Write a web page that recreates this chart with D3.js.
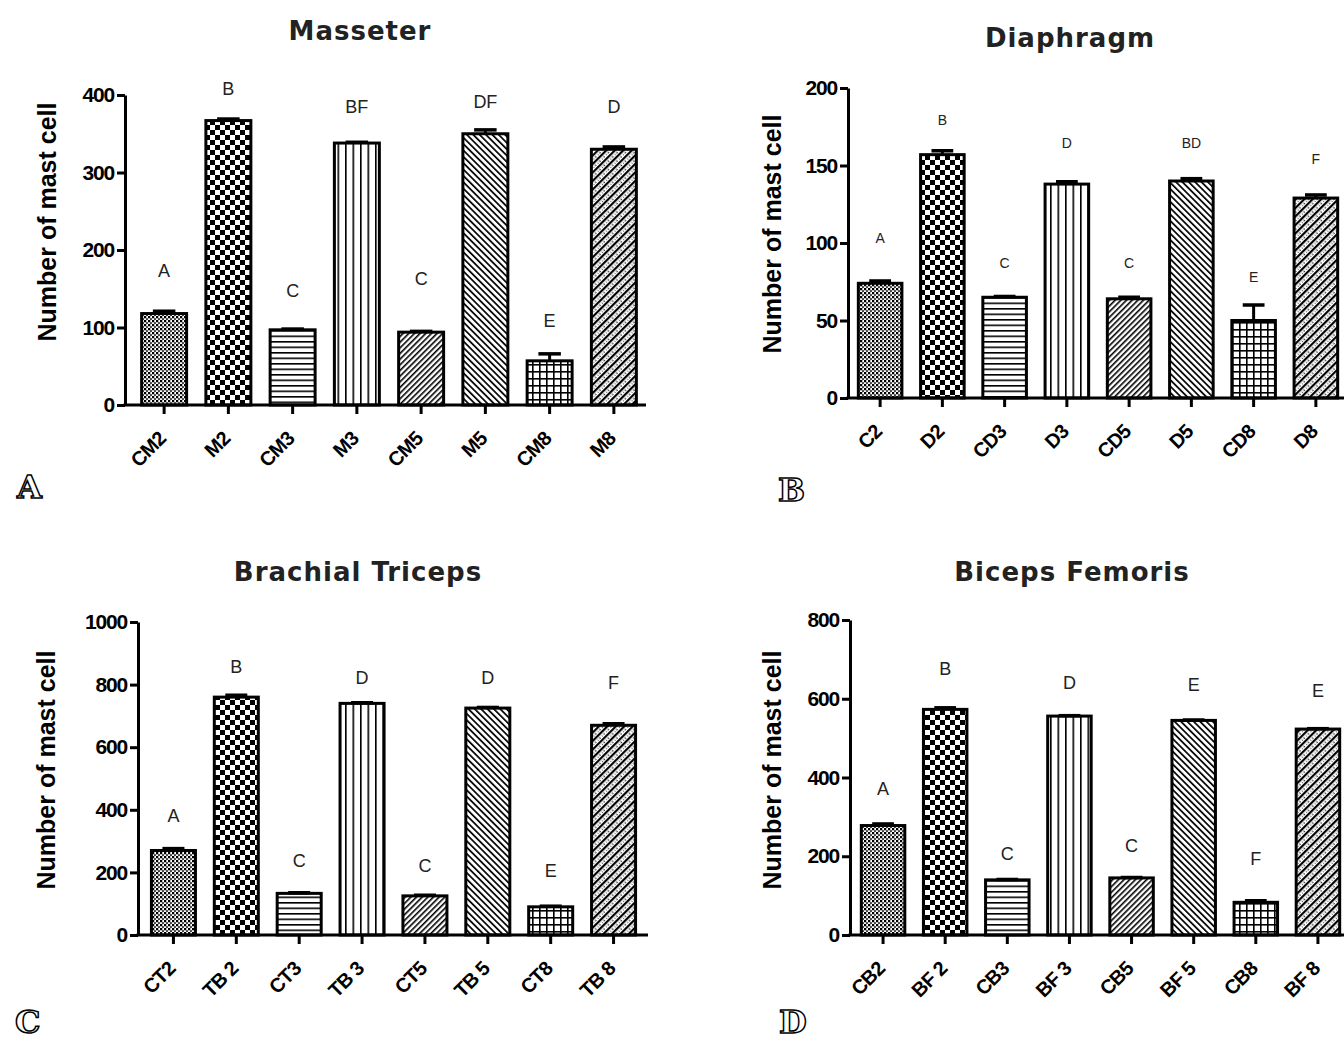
<!DOCTYPE html>
<html>
<head>
<meta charset="utf-8">
<script src="https://cdnjs.cloudflare.com/ajax/libs/d3/7.8.5/d3.min.js"></script>
<style>
  body { margin: 0; background: #fff; }
  svg { display: block; }
  .tick text { font-family: "Liberation Sans", Arial, sans-serif; font-weight: bold; }
</style>
</head>
<body>
<svg id="chart" width="1344" height="1044"></svg>
<script>
// ---- data ----
const masseterGroups = ["CM2", "M2", "CM3", "M3", "CM5", "M5", "CM8", "M8"];
const masseterMeans = [118, 367, 97, 338, 94, 350, 57, 330];
const masseterErrors = [3, 2, 1, 1, 1, 5, 9, 3];
const masseterLetters = ["A", "B", "C", "BF", "C", "DF", "E", "D"];
const masseterLetterAt = [165, 400, 139, 377, 155, 383, 101, 377];
const masseterTicks = [0, 100, 200, 300, 400];

const diaphragmGroups = ["C2", "D2", "CD3", "D3", "CD5", "D5", "CD8", "D8"];
const diaphragmMeans = [74, 157, 65, 138, 64, 140, 50, 129];
const diaphragmErrors = [1.5, 2.5, 0.5, 1.5, 1, 1.5, 10, 2];
const diaphragmLetters = ["A", "B", "C", "D", "C", "BD", "E", "F"];
const diaphragmLetterAt = [100, 176, 84, 161, 84, 161, 75, 151];
const diaphragmTicks = [0, 50, 100, 150, 200];

const tricepsGroups = ["CT2", "TB 2", "CT3", "TB 3", "CT5", "TB 5", "CT8", "TB 8"];
const tricepsMeans = [270, 760, 133, 740, 125, 725, 90, 670];
const tricepsErrors = [6, 6, 2, 2, 2, 2, 2, 5];
const tricepsLetters = ["A", "B", "C", "D", "C", "D", "E", "F"];
const tricepsLetterAt = [361, 837, 217, 802, 201, 802, 185, 786];
const tricepsTicks = [0, 200, 400, 600, 800, 1000];

const bicepsGroups = ["CB2", "BF 2", "CB3", "BF 3", "CB5", "BF 5", "CB8", "BF 8"];
const bicepsMeans = [278, 573, 140, 556, 145, 545, 83, 523];
const bicepsErrors = [4, 4, 1, 1, 1, 1, 4, 1];
const bicepsLetters = ["A", "B", "C", "D", "C", "E", "F", "E"];
const bicepsLetterAt = [355, 660, 190, 624, 211, 619, 178, 604];
const bicepsTicks = [0, 200, 400, 600, 800];

const yLabel = "Number of mast cell";

// layout of the four panels
const panels = [
  { title: "Masseter", tag: "A", groups: masseterGroups, means: masseterMeans, errors: masseterErrors,
    letters: masseterLetters, letterAt: masseterLetterAt, ticks: masseterTicks,
    axisX: 125, axisEnd: 646, band: [132, 646], y0: 405, yTop: 95,
    titleX: 360, titleY: 40, labX: 56, labY: 222, tagX: 17, tagY: 498, letterSize: 18 },
  { title: "Diaphragm", tag: "B", groups: diaphragmGroups, means: diaphragmMeans, errors: diaphragmErrors,
    letters: diaphragmLetters, letterAt: diaphragmLetterAt, ticks: diaphragmTicks,
    axisX: 848, axisEnd: 1344, band: [849, 1347], y0: 398, yTop: 88,
    titleX: 1070, titleY: 47, labX: 781, labY: 234, tagX: 778, tagY: 501, letterSize: 14 },
  { title: "Brachial Triceps", tag: "C", groups: tricepsGroups, means: tricepsMeans, errors: tricepsErrors,
    letters: tricepsLetters, letterAt: tricepsLetterAt, ticks: tricepsTicks,
    axisX: 138, axisEnd: 648, band: [142, 645], y0: 935, yTop: 622,
    titleX: 358, titleY: 581, labX: 55, labY: 770, tagX: 15, tagY: 1033, letterSize: 18 },
  { title: "Biceps Femoris", tag: "D", groups: bicepsGroups, means: bicepsMeans, errors: bicepsErrors,
    letters: bicepsLetters, letterAt: bicepsLetterAt, ticks: bicepsTicks,
    axisX: 850, axisEnd: 1344, band: [852, 1349], y0: 935, yTop: 620,
    titleX: 1072, titleY: 581, labX: 781, labY: 770, tagX: 779, tagY: 1033, letterSize: 18 }
];

const svg = d3.select("#chart");
const defs = svg.append("defs");

// ---- the eight fill patterns, same order in every panel ----
function pat(id, w, h, transform) {
  const p = defs.append("pattern")
    .attr("id", id)
    .attr("patternUnits", "userSpaceOnUse")
    .attr("width", w).attr("height", h);
  if (transform) p.attr("patternTransform", transform);
  p.append("rect").attr("width", w).attr("height", h).attr("fill", "#fff");
  return p;
}
// 0: fine dot mesh
let p = pat("p0", 4, 4);
p.append("circle").attr("cx", 1).attr("cy", 1).attr("r", 1.4).attr("fill", "#000");
p.append("circle").attr("cx", 3).attr("cy", 3).attr("r", 1.1).attr("fill", "#333");
// 1: checkerboard
p = pat("p1", 10, 10);
p.append("rect").attr("x", 0).attr("y", 0).attr("width", 5).attr("height", 5).attr("fill", "#000");
p.append("rect").attr("x", 5).attr("y", 5).attr("width", 5).attr("height", 5).attr("fill", "#000");
// 2: horizontal lines
p = pat("p2", 6, 5.5);
p.append("rect").attr("y", 0).attr("width", 6).attr("height", 1.6).attr("fill", "#000");
// 3: vertical lines
p = pat("p3", 7.5, 6);
p.append("rect").attr("x", 0).attr("width", 1.6).attr("height", 6).attr("fill", "#000");
// 4: dense "/" hatch
p = pat("p4", 4, 4, "rotate(45)");
p.append("rect").attr("width", 1.6).attr("height", 4).attr("fill", "#000");
// 5: dense "\" hatch
p = pat("p5", 4.5, 4.5, "rotate(-45)");
p.append("rect").attr("width", 1.7).attr("height", 4.5).attr("fill", "#000");
// 6: grid
p = pat("p6", 7, 7);
p.append("rect").attr("width", 7).attr("height", 1.6).attr("fill", "#000");
p.append("rect").attr("width", 1.6).attr("height", 7).attr("fill", "#000");
// 7: "/" hatch with speckles
p = pat("p7", 6, 6, "rotate(45)");
p.append("rect").attr("width", 2.2).attr("height", 6).attr("fill", "#000");
p.append("rect").attr("x", 3.6).attr("y", 1).attr("width", 1.2).attr("height", 1.4).attr("fill", "#000");
p.append("rect").attr("x", 3.8).attr("y", 4).attr("width", 1).attr("height", 1).attr("fill", "#333");

panels.forEach(function(cfg) {
  const g = svg.append("g");

  const x = d3.scaleBand()
    .domain(cfg.groups)
    .range(cfg.band)
    .paddingInner(0.3)
    .paddingOuter(0.15);
  const y = d3.scaleLinear()
    .domain([0, d3.max(cfg.ticks)])
    .range([cfg.y0, cfg.yTop]);

  // bars
  g.selectAll(".bar")
    .data(cfg.groups)
    .enter().append("rect")
      .attr("class", "bar")
      .attr("x", d => x(d))
      .attr("y", (d, i) => y(cfg.means[i]))
      .attr("width", x.bandwidth())
      .attr("height", (d, i) => cfg.y0 - y(cfg.means[i]))
      .attr("fill", (d, i) => "url(#p" + i + ")")
      .attr("stroke", "#000")
      .attr("stroke-width", 3);

  // error bars (upper only)
  const capW = x.bandwidth() * 0.5;
  const err = g.selectAll(".err")
    .data(cfg.groups)
    .enter().append("g")
      .attr("class", "err");
  err.append("line")
    .attr("x1", d => x(d) + x.bandwidth() / 2)
    .attr("x2", d => x(d) + x.bandwidth() / 2)
    .attr("y1", (d, i) => y(cfg.means[i]))
    .attr("y2", (d, i) => y(cfg.means[i] + cfg.errors[i]))
    .attr("stroke", "#000").attr("stroke-width", 3);
  err.append("line")
    .attr("x1", d => x(d) + x.bandwidth() / 2 - capW / 2)
    .attr("x2", d => x(d) + x.bandwidth() / 2 + capW / 2)
    .attr("y1", (d, i) => y(cfg.means[i] + cfg.errors[i]))
    .attr("y2", (d, i) => y(cfg.means[i] + cfg.errors[i]))
    .attr("stroke", "#000").attr("stroke-width", 3.5);

  // significance letters
  g.selectAll(".sig")
    .data(cfg.groups)
    .enter().append("text")
      .attr("class", "sig")
      .attr("x", d => x(d) + x.bandwidth() / 2)
      .attr("y", (d, i) => y(cfg.letterAt[i]))
      .attr("text-anchor", "middle")
      .style("font-family", "'Liberation Sans', Arial, sans-serif")
      .style("font-size", cfg.letterSize + "px")
      .style("fill", "#222")
      .text((d, i) => cfg.letters[i]);

  // y axis
  const yAxis = g.append("g")
    .attr("transform", `translate(${cfg.axisX},0)`)
    .call(d3.axisLeft(y).tickValues(cfg.ticks).tickFormat(d3.format("d"))
      .tickSize(8).tickSizeOuter(0).tickPadding(3));
  yAxis.select(".domain").attr("stroke-width", 3);
  yAxis.selectAll(".tick line").attr("stroke-width", 3);
  yAxis.selectAll(".tick text").style("font-size", "21px").attr("letter-spacing", "-1.2");

  // x axis
  g.append("line")
    .attr("x1", cfg.axisX - 1.5).attr("x2", cfg.axisEnd)
    .attr("y1", cfg.y0).attr("y2", cfg.y0)
    .attr("stroke", "#000").attr("stroke-width", 3);
  const xAxis = g.append("g")
    .attr("transform", `translate(0,${cfg.y0})`)
    .call(d3.axisBottom(x).tickSize(9).tickPadding(4));
  xAxis.select(".domain").remove();
  xAxis.selectAll(".tick line").attr("stroke-width", 3);
  xAxis.selectAll(".tick text")
    .style("font-size", "20px")
    .attr("letter-spacing", "-0.8")
    .attr("text-anchor", "end")
    .attr("dy", null)
    .attr("y", 0)
    .attr("transform", "translate(3,35) rotate(-45)");

  // title
  g.append("text")
    .attr("x", cfg.titleX).attr("y", cfg.titleY)
    .attr("text-anchor", "middle")
    .style("font-family", "'DejaVu Sans', Verdana, sans-serif")
    .style("font-weight", "bold")
    .style("font-size", "26px")
    .attr("letter-spacing", "1")
    .style("fill", "#222")
    .text(cfg.title);

  // y label
  g.append("text")
    .attr("transform", `translate(${cfg.labX},${cfg.labY}) rotate(-90)`)
    .attr("text-anchor", "middle")
    .style("font-family", "'Liberation Sans', Arial, sans-serif")
    .style("font-weight", "bold")
    .style("font-size", "25px")
    .text(yLabel);

  // panel tag
  g.append("text")
    .attr("x", cfg.tagX).attr("y", cfg.tagY)
    .style("font-family", "'DejaVu Serif', serif")
    .style("font-weight", "bold")
    .style("font-size", "32px")
    .style("fill", "#fff")
    .style("stroke", "#000")
    .style("stroke-width", 1.5)
    .text(cfg.tag);
});
</script>
</body>
</html>
